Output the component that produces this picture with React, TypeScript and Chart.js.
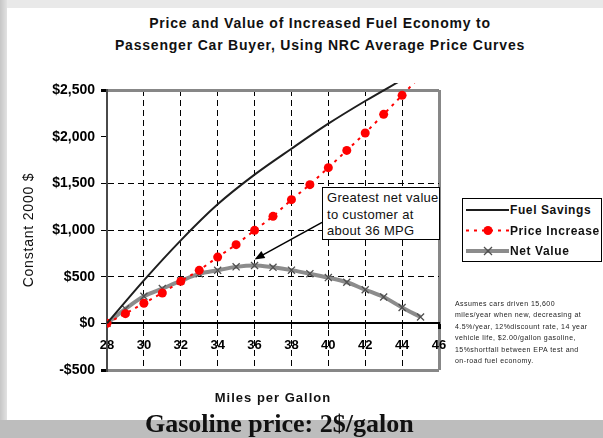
import React, { useEffect, useRef } from "react";
import { Chart, registerables } from "chart.js";

Chart.register(...registerables);

// ---- data ----
const mpgAll = [28, 29, 30, 31, 32, 33, 34, 35, 36, 37, 38, 39, 40, 41, 42, 43, 44, 45];
const fuelMpg = [28, 30, 32, 34, 36, 38, 40, 42, 44];
const fuelSavings = [0, 460, 889, 1275, 1593, 1871, 2139, 2382, 2610];
const priceIncrease = [0, 104, 215, 325, 450, 568, 710, 843, 996, 1146, 1325, 1486, 1668, 1853, 2039, 2239, 2443, 2650];
const netValue = [0, 155, 290, 372, 455, 530, 568, 605, 620, 600, 570, 532, 490, 440, 360, 282, 170, 68];
const seriesNames = ["Fuel Savings", "Price Increase", "Net Value"];
const xMin = 28, xMax = 46, xStep = 2;
const yMin = -500, yMax = 2500, yStep = 500;
const dashedYLines = [500, 1000, 1500];
const arrowTail = { x: 39.66, y: 1082 };
const arrowTip = { x: 36, y: 685 };

const titleLines = [
  "Price and Value of Increased Fuel Economy to",
  "Passenger Car Buyer, Using NRC Average Price Curves",
];
const yTitle = "Constant 2000 $";
const xTitle = "Miles per Gallon";
const calloutLines = ["Greatest net value", "to customer at", "about 36 MPG"];
const noteLines = [
  "Assumes cars driven 15,600",
  "miles/year when new, decreasing at",
  "4.5%/year, 12%discount rate, 14 year",
  "vehicle life, $2.00/gallon gasoline,",
  "15%shortfall between EPA test and",
  "on-road fuel economy.",
];
const footer = "Gasoline price: 2$/galon";

const SANS = "'Liberation Sans', Arial, sans-serif";
const FRAME = "#878787";

const arrowPlugin = {
  id: "arrow",
  afterDatasetsDraw(chart: any) {
    const { ctx, scales } = chart;
    const x1 = scales.x.getPixelForValue(arrowTail.x);
    const y1 = scales.y.getPixelForValue(arrowTail.y);
    const x2 = scales.x.getPixelForValue(arrowTip.x);
    const y2 = scales.y.getPixelForValue(arrowTip.y);
    const ang = Math.atan2(y2 - y1, x2 - x1);
    const L = 10, W = 4;
    ctx.save();
    ctx.strokeStyle = "#000";
    ctx.fillStyle = "#000";
    ctx.lineWidth = 1.5;
    ctx.setLineDash([]);
    ctx.beginPath();
    ctx.moveTo(x1, y1);
    ctx.lineTo(x2 - Math.cos(ang) * L * 0.8, y2 - Math.sin(ang) * L * 0.8);
    ctx.stroke();
    ctx.beginPath();
    ctx.moveTo(x2, y2);
    ctx.lineTo(x2 - Math.cos(ang) * L - Math.sin(ang) * W, y2 - Math.sin(ang) * L + Math.cos(ang) * W);
    ctx.lineTo(x2 - Math.cos(ang) * L + Math.sin(ang) * W, y2 - Math.sin(ang) * L - Math.cos(ang) * W);
    ctx.closePath();
    ctx.fill();
    ctx.restore();
  },
};

function fmtDollar(v: number) {
  const s = "$" + Math.abs(v).toLocaleString("en-US");
  return v < 0 ? "-" + s : s;
}

export default function App() {
  const ref = useRef<HTMLCanvasElement | null>(null);

  useEffect(() => {
    if (!ref.current) return;
    const clip = { left: 0, top: 7, right: 0, bottom: 0 };
    const chart = new Chart(ref.current, {
      type: "line",
      data: {
        datasets: [
          {
            label: seriesNames[0],
            data: fuelMpg.map((x, i) => ({ x, y: fuelSavings[i] })),
            borderColor: "#1e1e1e",
            borderWidth: 2,
            pointRadius: 0,
            cubicInterpolationMode: "monotone",
            fill: false,
            clip,
          } as any,
          {
            label: seriesNames[1],
            data: mpgAll.map((x, i) => ({ x, y: priceIncrease[i] })),
            borderColor: "#ff0000",
            borderWidth: 2,
            borderDash: [3, 5],
            pointRadius: 4.5,
            pointBackgroundColor: "#ff0000",
            pointBorderColor: "#ff0000",
            pointBorderWidth: 0,
            fill: false,
            clip,
          } as any,
          {
            label: seriesNames[2],
            data: mpgAll.map((x, i) => ({ x, y: netValue[i] })),
            borderColor: "#8c8c8c",
            borderWidth: 4,
            pointStyle: "crossRot",
            pointRadius: 5,
            pointBorderColor: "#505050",
            pointBorderWidth: 1.3,
            cubicInterpolationMode: "monotone",
            fill: false,
            clip,
          } as any,
        ],
      },
      options: {
        responsive: false,
        animation: false,
        devicePixelRatio: 1,
        layout: { padding: { left: 47, right: 164, top: 90, bottom: 68 } },
        plugins: {
          legend: { display: false },
          tooltip: { enabled: false },
          title: { display: false },
        },
        scales: {
          x: {
            type: "linear",
            min: xMin,
            max: xMax,
            position: { y: 0 } as any,
            ticks: {
              stepSize: xStep,
              autoSkip: false,
              maxRotation: 0,
              color: "#000",
              padding: 9,
              font: { family: SANS, size: 13, weight: "bold" },
            },
            grid: {
              color: (c: any) => {
                const v = c.tick ? c.tick.value : 0;
                if (v === xMin) return "rgba(0,0,0,0)";
                if (v === xMax) return FRAME;
                return "#000";
              },
              lineWidth: (c: any) => (c.tick && c.tick.value === xMax ? 3 : 1),
              tickColor: "#000",
              tickLength: 5,
            },
            border: {
              color: "#000",
              width: 2,
              dash: (c: any) => (c.tick && c.tick.value === xMax ? [] : [6, 4]),
            } as any,
          },
          y: {
            min: yMin,
            max: yMax,
            ticks: {
              stepSize: yStep,
              color: "#000",
              padding: 6,
              font: { family: SANS, size: 14, weight: "bold" },
              callback: (v: any) => fmtDollar(Number(v)),
            },
            grid: {
              color: (c: any) => {
                const v = c.tick ? c.tick.value : 0;
                if (v === yMax || v === yMin) return FRAME;
                if (dashedYLines.includes(v)) return "#000";
                return "rgba(0,0,0,0)";
              },
              lineWidth: (c: any) => (c.tick && (c.tick.value === yMax || c.tick.value === yMin) ? 3 : 1),
              tickColor: "#000",
              tickLength: 6,
            },
            border: {
              color: "#4a4a4a",
              width: 2,
              dash: (c: any) => (c.tick && (c.tick.value === yMax || c.tick.value === yMin) ? [] : [6, 4]),
            } as any,
            afterFit: (s: any) => {
              s.width = 60;
            },
          },
        },
      },
      plugins: [arrowPlugin],
    });
    return () => chart.destroy();
  }, []);

  const abs = (o: any): React.CSSProperties => ({ position: "absolute", ...o });

  return (
    <div style={abs({ position: "fixed", left: 0, top: 0, width: 603, height: 438, background: "#bdbdbd", overflow: "hidden" })}>
      <div style={abs({ left: 0, top: 0, width: 603, height: 8, background: "#e9e9e9" })} />
      <div style={abs({ left: 0, top: 0, width: 7, height: 420, background: "linear-gradient(to right, #c6c6c6, #e2e2e2)" })} />
      <div style={abs({ left: 7, top: 8, width: 596, height: 412, background: "#fff" })} />

      {titleLines.map((t, i) => (
        <div key={i} style={abs({ left: 20, width: 600, top: 15 + i * 22, textAlign: "center", font: `bold 14px ${SANS}`, letterSpacing: 0.8, color: "#111", lineHeight: "17px", whiteSpace: "nowrap" })}>{t}</div>
      ))}

      <canvas ref={ref} width={603} height={438} style={abs({ left: 0, top: 0, width: 603, height: 438 })} />

      <div style={abs({ left: 28 - 80, top: 230 - 9, width: 160, height: 18, textAlign: "center", transform: "rotate(-90deg)", font: `14px ${SANS}`, letterSpacing: 0.8, color: "#111", lineHeight: "18px" })}>{yTitle}</div>

      <div style={abs({ left: 173, width: 200, top: 390, textAlign: "center", font: `bold 13px ${SANS}`, letterSpacing: 1, color: "#111", lineHeight: "16px" })}>{xTitle}</div>

      <div style={abs({ left: 322, top: 187, width: 118, height: 53, background: "#fff", border: "1px solid #000", padding: "2px 0 0 4px", boxSizing: "border-box" })}>
        {calloutLines.map((t, i) => (
          <div key={i} style={{ font: `13px ${SANS}`, letterSpacing: 0.3, color: "#111", lineHeight: "16.5px", whiteSpace: "nowrap" }}>{t}</div>
        ))}
      </div>

      <div style={abs({ left: 462, top: 198, width: 140, height: 64, background: "#fff", border: "1px solid #000", boxSizing: "border-box" })}>
        <svg width={140} height={64} style={abs({ left: 0, top: 0 })}>
          <line x1={3} y1={11} x2={46} y2={11} stroke="#1e1e1e" strokeWidth={2} />
          <line x1={3} y1={31.5} x2={46} y2={31.5} stroke="#ff0000" strokeWidth={2} strokeDasharray="3 5" />
          <circle cx={25} cy={31.5} r={4.5} fill="#ff0000" />
          <line x1={3} y1={52} x2={46} y2={52} stroke="#8c8c8c" strokeWidth={4} />
          <line x1={21} y1={48} x2={29} y2={56} stroke="#505050" strokeWidth={1.3} />
          <line x1={21} y1={56} x2={29} y2={48} stroke="#505050" strokeWidth={1.3} />
        </svg>
        {seriesNames.map((t, i) => (
          <div key={i} style={abs({ left: 47, top: 3 + i * 20.5, font: `bold 12px ${SANS}`, letterSpacing: 0.6, color: "#111", lineHeight: "16px", whiteSpace: "nowrap" })}>{t}</div>
        ))}
      </div>

      {noteLines.map((t, i) => (
        <div key={i} style={abs({ left: 455, top: 299 + i * 11.4, font: `7px ${SANS}`, letterSpacing: 0.45, color: "#222", lineHeight: "10px", whiteSpace: "nowrap" })}>{t}</div>
      ))}

      <div style={abs({ left: 145, top: 409, font: "bold 26px 'Liberation Serif', 'Times New Roman', serif", color: "#111", lineHeight: "30px", whiteSpace: "nowrap" })}>{footer}</div>
    </div>
  );
}
